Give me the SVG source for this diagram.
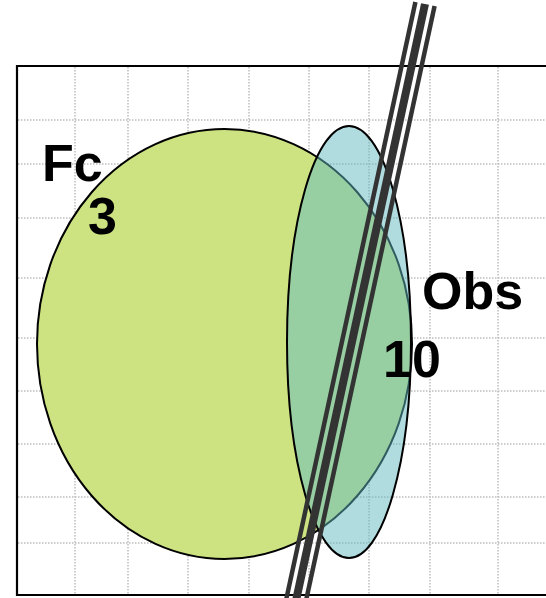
<svg xmlns="http://www.w3.org/2000/svg" width="546" height="598" viewBox="0 0 546 598">
<style>
.grid{stroke:#bdbdbd;stroke-width:1.5;stroke-dasharray:1.5 1.5;fill:none}
.lbl{font-family:"Liberation Sans",Arial,sans-serif;font-weight:bold;font-size:52px;fill:#000}
.bar{stroke:#333;fill:none;stroke-linecap:butt}
</style>
<rect width="546" height="598" fill="#fff"/>
<g id="grid">
<path class="grid" d="M75 67V594M128 67V594M188 67V594M249 67V594M309 67V594M369 67V594M430 67V594M498 67V594"/>
<path class="grid" d="M18 120H546M18 164H546M18 218H546M18 278H546M18 338H546M18 391H546M18 444H546M18 497H546M18 543H546"/>
</g>
<path id="frame" d="M548 66H17V595H548" fill="none" stroke="#000" stroke-width="2.2"/>
<g id="fc">
<ellipse cx="224.5" cy="344" rx="187.5" ry="215" fill="#cde382" stroke="#000" stroke-width="2"/>
<text class="lbl" x="42" y="181">Fc</text>
<text class="lbl" x="88" y="234">3</text>
</g>
<g id="obs">
<ellipse cx="349" cy="342" rx="62" ry="216" fill="#61b9c1" fill-opacity="0.5" stroke="#000" stroke-width="2"/>
<text class="lbl" x="422" y="309">Obs</text>
<text class="lbl" x="383" y="377">10</text>
</g>
<g id="connectors" transform="translate(425,4) rotate(12.2)">
<line class="bar" x1="-9.8" y1="0" x2="-9.8" y2="620" stroke-width="4.5"/>
<line class="bar" x1="0" y1="0" x2="0" y2="620" stroke-width="8"/>
<line class="bar" x1="9.8" y1="0" x2="9.8" y2="620" stroke-width="4.5"/>
</g>
</svg>
